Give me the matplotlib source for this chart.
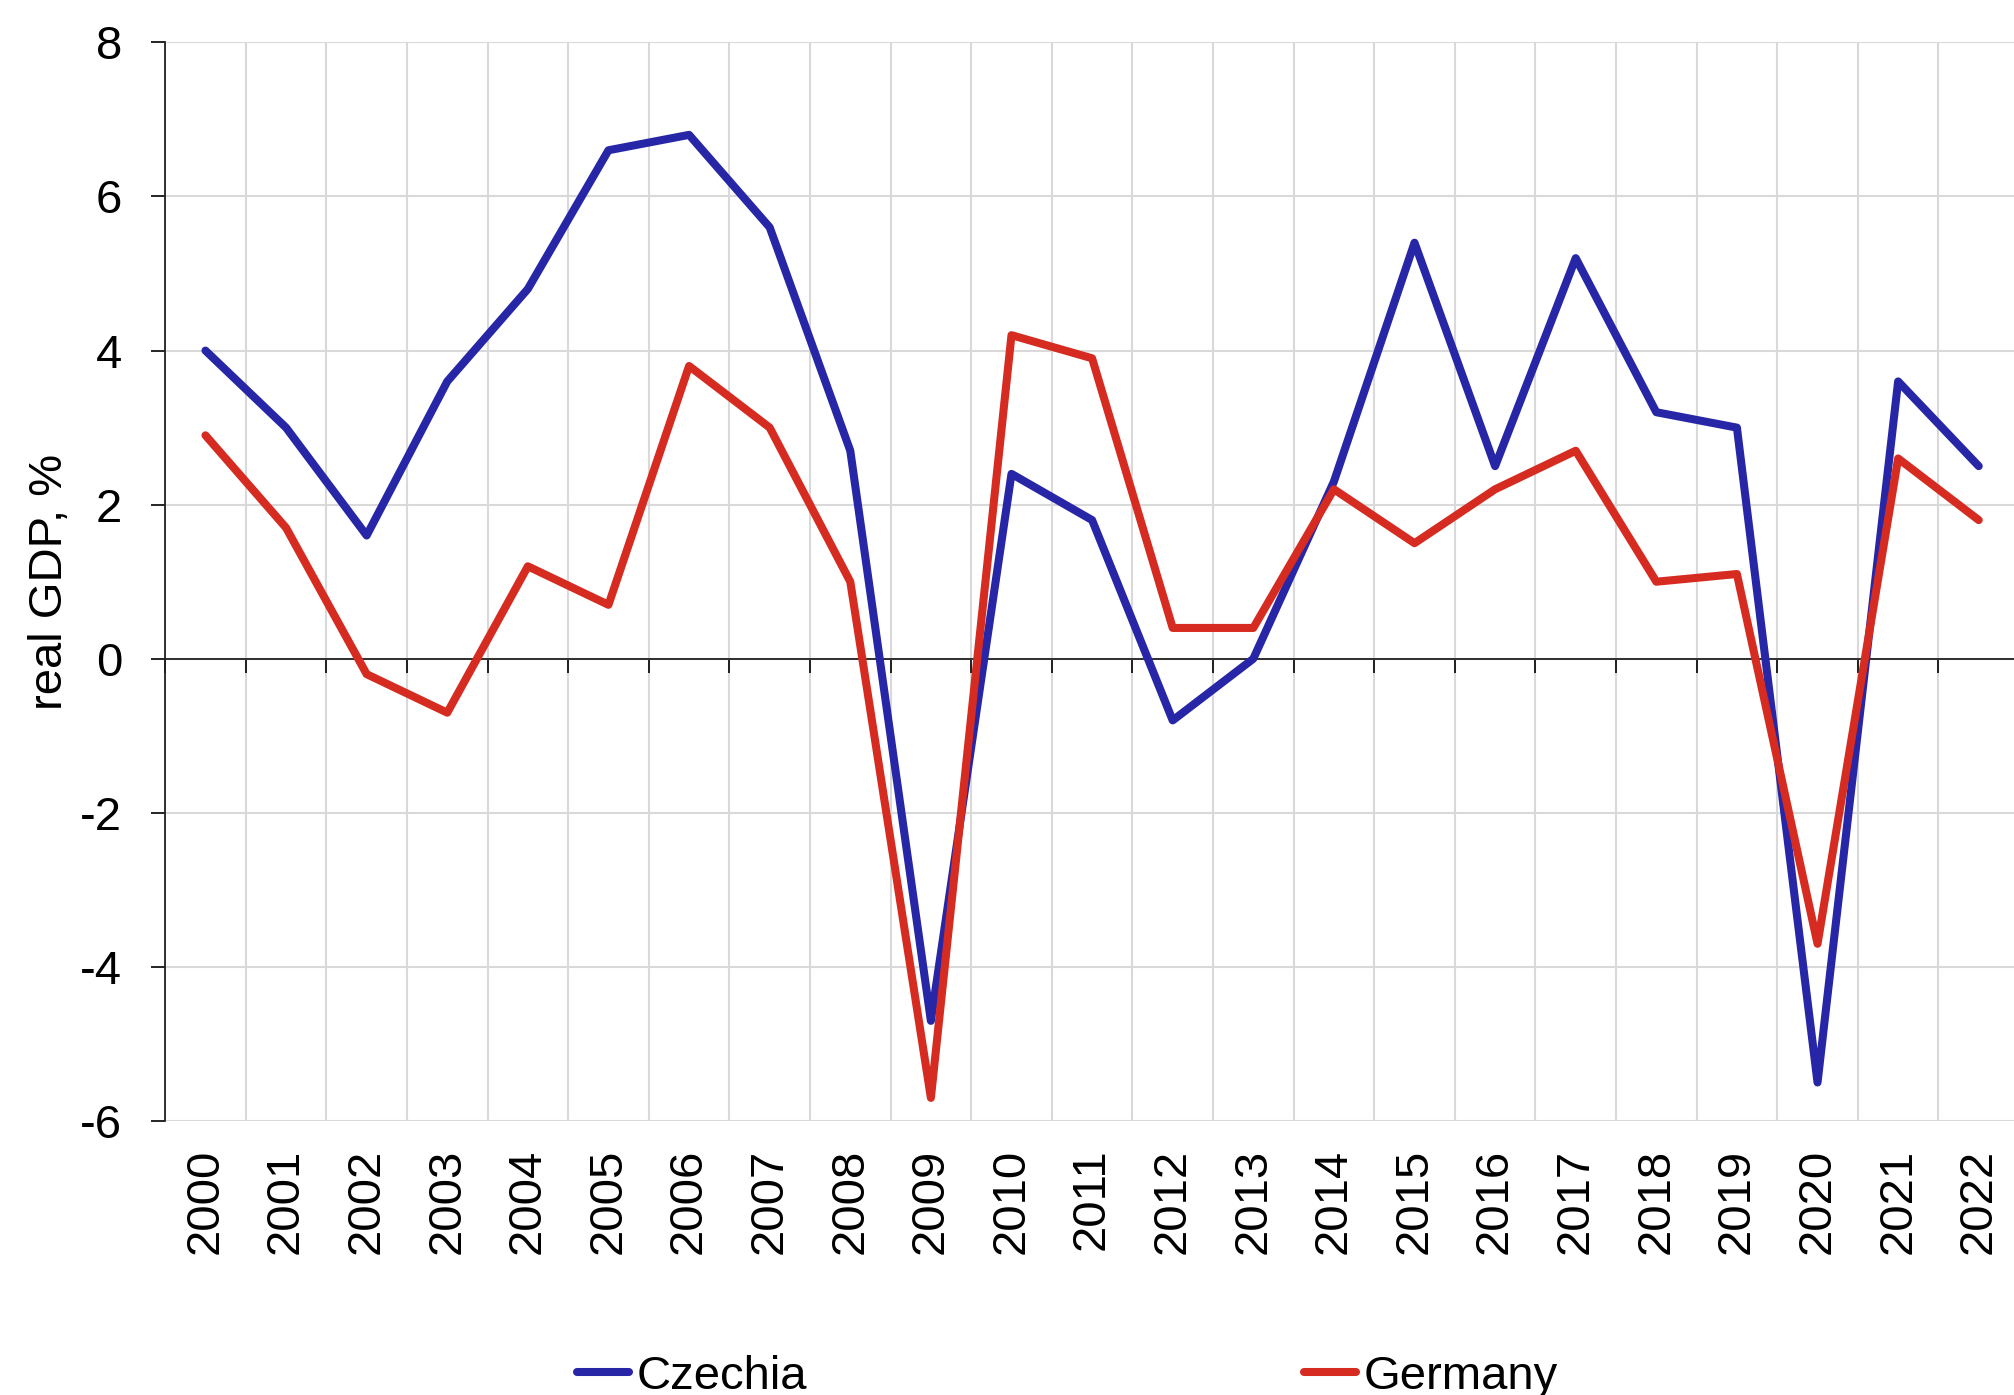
import numpy as np
import matplotlib
matplotlib.use("Agg")
from matplotlib import pyplot as plt

years = [str(y) for y in range(2000, 2023)]
czechia = [4.0, 3.0, 1.6, 3.6, 4.8, 6.6, 6.8, 5.6, 2.7, -4.7, 2.4, 1.8,
           -0.8, 0.0, 2.3, 5.4, 2.5, 5.2, 3.2, 3.0, -5.5, 3.6, 2.5]
germany = [2.9, 1.7, -0.2, -0.7, 1.2, 0.7, 3.8, 3.0, 1.0, -5.7, 4.2, 3.9,
           0.4, 0.4, 2.2, 1.5, 2.2, 2.7, 1.0, 1.1, -3.7, 2.6, 1.8]

plt.rcParams['font.family'] = ['Liberation Sans', 'DejaVu Sans']
fs = 34

fig = plt.figure(figsize=(20.14, 13.95), dpi=100)
ax = fig.add_axes([0.0820, 0.1964, 0.9205, 0.7732])

x = np.arange(len(years))
l1, = ax.plot(x, czechia, color='#2626A6', lw=5.8, solid_joinstyle='round',
              solid_capstyle='round', label='Czechia', zorder=3)
l2, = ax.plot(x, germany, color='#D62B20', lw=5.8, solid_joinstyle='round',
              solid_capstyle='round', label='Germany', zorder=4)

ax.set_xlim(-0.5, len(years) - 0.5)
ax.set_ylim(-6, 8)
ax.set_yticks(np.arange(-6, 9, 2))
ax.set_yticklabels([str(v) for v in range(-6, 9, 2)], fontsize=fs)

# boundaries between categories: grid + ticks on the zero axis
bounds = np.arange(-0.5, len(years), 1.0)
ax.set_xticks(bounds)
ax.tick_params(axis='x', direction='out', length=10, width=1.2, color='black',
               labelbottom=False)
ax.tick_params(axis='y', direction='out', length=10, width=1.2, pad=21)
ax.grid(True, color='#D9D9D9', lw=1.5, zorder=0)
ax.set_axisbelow(True)

ax.spines['bottom'].set_position(('data', 0))
ax.spines['bottom'].set_color('#222222')
ax.spines['bottom'].set_linewidth(1.3)
ax.spines['left'].set_color('#222222')
ax.spines['left'].set_linewidth(1.3)
ax.spines['top'].set_visible(False)
ax.spines['right'].set_visible(False)

# year labels at the bottom of the plot area
sec = ax.secondary_xaxis(0)
sec.set_xticks(x)
sec.set_xticklabels(years, rotation=90, fontsize=fs)
sec.tick_params(length=0, pad=20)
sec.spines['bottom'].set_visible(False)

ax.set_ylabel('real GDP, %', fontsize=fs)
ax.yaxis.set_label_coords(-0.05, 0.5)

fig.legend(handles=[l1, l2], loc='center', bbox_to_anchor=(0.53, 0.013),
           ncol=2, frameon=False, fontsize=fs, handlelength=1.1,
           handletextpad=0.15, columnspacing=10.53, borderpad=0)

fig.savefig('out.png', dpi=100)
